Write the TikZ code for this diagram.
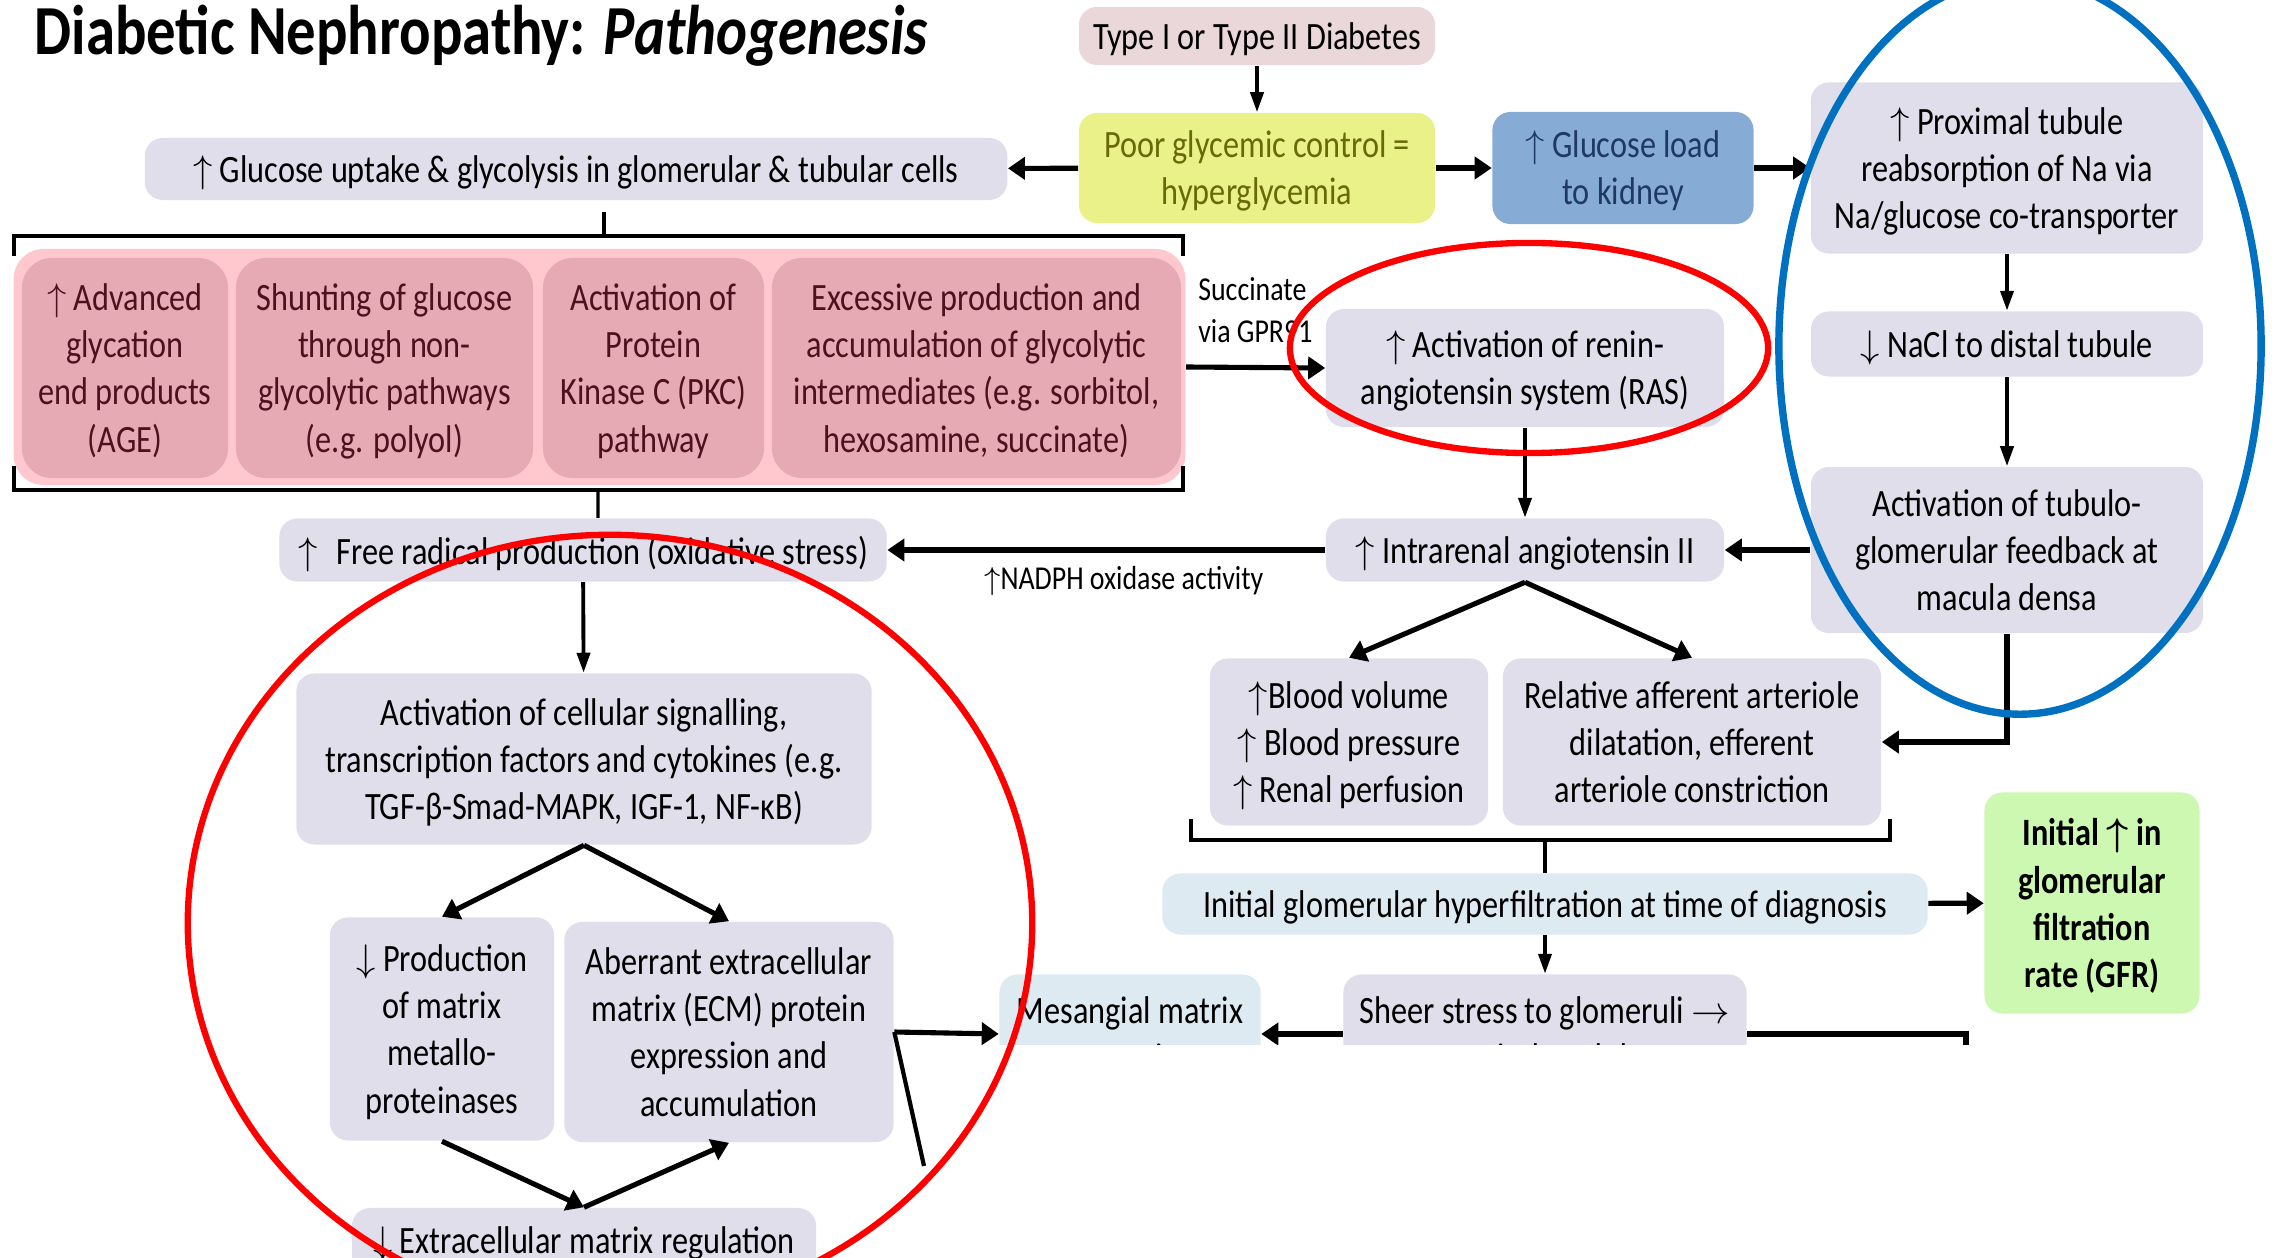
\documentclass[tikz,border=0pt]{standalone}
\usepackage{fontspec}
\setmainfont{Carlito}[FakeStretch=0.835]
\usetikzlibrary{arrows.meta,positioning}

\definecolor{lav}{RGB}{225,222,235}
\definecolor{typepink}{RGB}{233,215,217}
\definecolor{hypyellow}{RGB}{235,241,137}
\definecolor{hyptext}{RGB}{105,105,10}
\definecolor{loadblue}{RGB}{134,172,214}
\definecolor{loadtext}{RGB}{31,56,100}
\definecolor{bandpink}{RGB}{255,199,206}
\definecolor{boxpink}{RGB}{230,170,180}
\definecolor{pinktext}{RGB}{75,18,30}
\definecolor{paleblue}{RGB}{222,234,241}
\definecolor{gfrgreen}{RGB}{204,248,178}
\definecolor{ringblue}{RGB}{0,112,192}

\tikzset{
    flow box/.style={
        rounded corners=.18cm,
        fill=lav,align=center,inner sep=0pt,text depth=0pt,
        font=\fontsize{11pt}{13.4pt}\selectfont
    },
    pink box/.style={
        flow box,fill=boxpink,text=pinktext,
        rounded corners=.3cm,minimum height=2.2cm
    },
    pale box/.style={flow box,fill=paleblue},
    note/.style={font=\fontsize{9.5pt}{12pt}\selectfont,align=left,inner sep=1pt},
    fat line/.style={line width=1.45pt},
    fat arrow/.style={fat line,-{Triangle[length=.17cm,width=.22cm]}},
    thin arrow/.style={line width=1.1pt,-{Triangle[length=.2cm,width=.13cm]}},
    brace line/.style={line width=.9pt},
    ring/.style={line width=1.8pt}
}

\begin{document}
\begin{tikzpicture}[x=.01cm,y=-.01cm]
    \useasboundingbox (0,0) rectangle (2272,1258);
    \node[anchor=base west,inner sep=0pt,font=\fontsize{20pt}{24pt}\selectfont\bfseries] (title) at (34,55)
        {Diabetic Nephropathy: \textit{Pathogenesis}};

    % top row
    \node[flow box,fill=typepink,minimum width=3.56cm,minimum height=.58cm] (diab) at (1257,36) {Type I or Type II Diabetes};
    \node[flow box,fill=hypyellow,text=hyptext,minimum width=3.56cm,minimum height=1.1cm] (poor) at (1257,168)
        {Poor glycemic control =\\hyperglycemia};
    \node[flow box,minimum width=8.62cm,minimum height=.62cm] (uptake) at (576,169)
        {$\uparrow$ Glucose uptake \& glycolysis in glomerular \& tubular cells};
    \node[flow box,fill=loadblue,text=loadtext,minimum width=2.61cm,minimum height=1.12cm] (load) at (1623,168)
        {$\uparrow$ Glucose load\\to kidney};

    % tubule column
    \node[flow box,minimum width=3.92cm,minimum height=1.71cm] (prox) at (2007,168)
        {$\uparrow$ Proximal tubule\\reabsorption of Na via\\Na/glucose co-transporter};
    \node[flow box,minimum width=3.92cm,minimum height=.65cm] (nacl) at (2007,344) {$\downarrow$ NaCl to distal tubule};
    \node[flow box,minimum width=3.92cm,minimum height=1.66cm] (tgf) at (2007,550)
        {Activation of tubulo-\\glomerular feedback at\\macula densa};

    % glucose metabolism band
    \node[fill=bandpink,rounded corners=.3cm,inner sep=0pt,minimum width=11.71cm,minimum height=2.36cm] (band) at (599.5,367) {};
    \foreach \name/\xc/\bw/\txt in {
        age/125/2.06/{$\uparrow$ Advanced\\glycation\\end products\\(AGE)},
        shunt/384.5/2.97/{Shunting of glucose\\through non-\\glycolytic pathways\\(e.g. polyol)},
        pkc/653.5/2.21/{Activation of\\Protein\\Kinase C (PKC)\\pathway},
        excess/976.5/4.09/{Excessive production and\\accumulation of glycolytic\\intermediates (e.g. sorbitol,\\hexosamine, succinate)}}
        \node[pink box,minimum width=\bw cm] (\name) at (\xc,368) {\txt};
    \draw[brace line] (14,256) -- (14,236) -- (1183,236) -- (1183,256);
    \draw[brace line] (604,236) -- (604,212);
    \draw[brace line] (14,466) -- (14,490) -- (1183,490) -- (1183,466);

    % RAS
    \node[flow box,minimum width=3.98cm,minimum height=1.18cm] (ras) at (1525,368)
        {$\uparrow$ Activation of renin-\\angiotensin system (RAS)};
    \node[flow box,minimum width=3.98cm,minimum height=.63cm] (angio) at (1525,550) {$\uparrow$ Intrarenal angiotensin II};
    \node[flow box,minimum width=6.07cm,minimum height=.63cm] (radical) at (583,550)
        {$\uparrow$\enspace Free radical production (oxidative stress)};
    \draw[brace line] (598,490) -- ([xshift=.15cm]radical.north);

    \node[flow box,minimum width=2.78cm,minimum height=1.67cm] (blood) at (1349,742)
        {$\uparrow$Blood volume\\$\uparrow$ Blood pressure\\$\uparrow$ Renal perfusion};
    \node[flow box,minimum width=3.78cm,minimum height=1.67cm] (arteriole) at (1692,742)
        {Relative afferent arteriole\\dilatation, efferent\\arteriole constriction};
    \node[pale box,minimum width=7.65cm,minimum height=.61cm] (filt) at (1545,904)
        {Initial glomerular hyperfiltration at time of diagnosis};
    \draw[brace line] (1191,819) -- (1191,840) -- (1890,840) -- (1890,819);
    \draw[brace line] (1545,840) -- (filt.north);
    \node[flow box,fill=gfrgreen,font=\fontsize{11pt}{13.4pt}\selectfont\bfseries,minimum width=2.15cm,minimum height=2.21cm] (gfr) at (2092,903)
        {Initial {\boldmath$\uparrow$} in\\glomerular\\filtration\\rate (GFR)};
    \node[flow box,minimum width=4.03cm,minimum height=1.19cm] (sheer) at (1545,1034)
        {Sheer stress to glomeruli $\rightarrow$\\pressure-induced damage};
    \node[pale box,minimum width=2.61cm,minimum height=1.19cm] (mesang) at (1130,1034) {Mesangial matrix\\expansion};

    % cellular signalling
    \node[flow box,minimum width=5.75cm,minimum height=1.71cm] (signal) at (584,759)
        {Activation of cellular signalling,\\transcription factors and cytokines (e.g.\\TGF-β-Smad-MAPK, IGF-1, NF-κB)};
    \node[flow box,minimum width=2.24cm,minimum height=2.23cm] (mmp) at (442,1029)
        {$\downarrow$ Production\\of matrix\\metallo-\\proteinases};
    \node[flow box,minimum width=3.29cm,minimum height=2.2cm] (ecm) at (729,1032)
        {Aberrant extracellular\\matrix (ECM) protein\\expression and\\accumulation};
    \node[flow box,minimum width=4.64cm,minimum height=.64cm] (ecmreg) at (584,1240)
        {$\downarrow$ Extracellular matrix regulation};

    % connectors
    \draw[thin arrow] (diab) -- (poor);
    \draw[fat arrow] (poor) -- (uptake);
    \draw[fat arrow] (poor) -- (load);
    \draw[fat arrow] (load) -- (prox);
    \draw[thin arrow] (prox) -- (nacl);
    \draw[thin arrow] (nacl) -- (tgf);
    \draw[fat arrow] (tgf) -- (angio);
    \draw[fat arrow] (tgf.south) |- (arteriole.east);
    \draw[fat arrow] (band.east) -- (ras.west);
    \node[note,above right=.2cm and .08cm of band.east] (succinate) {Succinate\\via GPR91};
    \draw[thin arrow] (ras) -- (angio);
    \draw[fat arrow] (angio) -- node[note,pos=.46,below=.1cm] (nadph) {$\uparrow$NADPH oxidase activity} (radical);
    \draw[fat arrow] (angio.south) -- (blood.north);
    \draw[fat arrow] (angio.south) -- (arteriole.north);
    \draw[fat arrow] (filt) -- (gfr);
    \draw[thin arrow] (filt) -- (sheer);
    \draw[fat arrow] (sheer) -- (mesang);
    \coordinate (sheerout) at (1966,1080);
    \draw[fat line] (sheer.east) -| (sheerout);
    \draw[thin arrow] (radical) -- (signal);
    \draw[fat arrow] (signal.south) -- (mmp.north);
    \draw[fat arrow] (signal.south) -- (ecm.north);
    \draw[fat arrow] (mmp.south) -- (ecmreg.north);
    \draw[fat arrow] (ecmreg.north) -- (ecm.south);
    \draw[fat arrow] (ecm.east) -- (mesang.west);
    \coordinate (spill) at (924,1166);
    \draw[line width=1.2pt] (ecm.east) -- (spill);

    % cut-off lower right
    \fill[white] (985,1045) rectangle (2272,1258);

    % highlight rings
    \draw[ring,red] (1529,348) ellipse [x radius=2.39cm,y radius=1.05cm];
    \draw[ring,red] (610,923) ellipse [x radius=4.22cm,y radius=3.88cm];
    \draw[ring,ringblue,line width=2.1pt] (2020,346) ellipse [x radius=2.41cm,y radius=3.68cm];
\end{tikzpicture}
\end{document}
